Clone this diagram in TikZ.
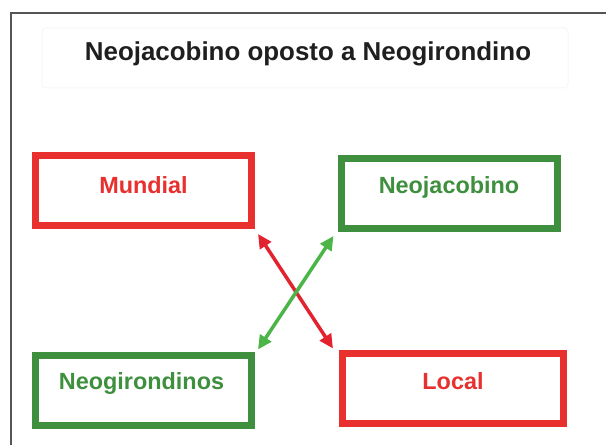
\documentclass[tikz,border=0pt]{standalone}
\usepackage{fontspec}
\setmainfont{Liberation Sans}
\usetikzlibrary{arrows.meta,calc}
\definecolor{boxred}{HTML}{E8302F}
\definecolor{boxgreen}{HTML}{3E8F3E}
\definecolor{arrred}{HTML}{E2232F}
\definecolor{arrgreen}{HTML}{4CB548}
\definecolor{framegray}{HTML}{555555}
\tikzset{
  box/.style={draw, line width=7bp, minimum width=216bp, minimum height=70bp, inner sep=0pt},
  redbox/.style={box, draw=boxred},
  greenbox/.style={box, draw=boxgreen},
  lbl/.style={font=\bfseries\fontsize{23.5}{26}\selectfont, inner sep=0pt},
  conn/.style={line width=3.5bp, {Triangle[length=14bp,width=13bp]}-{Triangle[length=14bp,width=13bp]}}
}
\begin{document}
\begin{tikzpicture}[x=1bp,y=-1bp]
\useasboundingbox (0,0) rectangle (606,445);
\fill[white] (0,0) rectangle (606,445);
% frame
\draw[framegray, line width=2bp] (11,445) -- (11,13) -- (606,13);
% faint title panel
\draw[black!3, line width=1bp, rounded corners=4bp] (42,28) rectangle (568,88);
\node[font=\bfseries\fontsize{26}{30}\selectfont, inner sep=0pt, text=black!88] (title) at (308,54) {Neojacobino oposto a Neogirondino};
% boxes
\node[redbox] (mundial) at (143.5,190.5) {};
\node[greenbox] (neojac) at (449,193.5) {};
\node[greenbox] (neogir) at (143.5,390) {};
\node[redbox, minimum width=221bp] (local) at (453,388) {};
% labels
\node[lbl, text=boxred] (tmundial) at ($(mundial.center)+(0,-5)$) {Mundial};
\node[lbl, text=boxgreen] (tneojac) at ($(neojac.center)+(0,-6)$) {Neojacobino};
\node[lbl, text=boxgreen] (tneogir) at ($(neogir.center)+(-2,-7)$) {Neogirondinos};
\node[lbl, text=boxred] (tlocal) at ($(local.center)+(0,-7)$) {Local};
% connectors
\draw[conn, arrred] ($(mundial.south east)+(3,5)$) -- ($(local.north west)+(-6,-1)$);
\draw[conn, arrgreen] ($(neojac.south west)+(-4,4)$) -- ($(neogir.north east)+(3,-2)$);
\end{tikzpicture}
\end{document}
